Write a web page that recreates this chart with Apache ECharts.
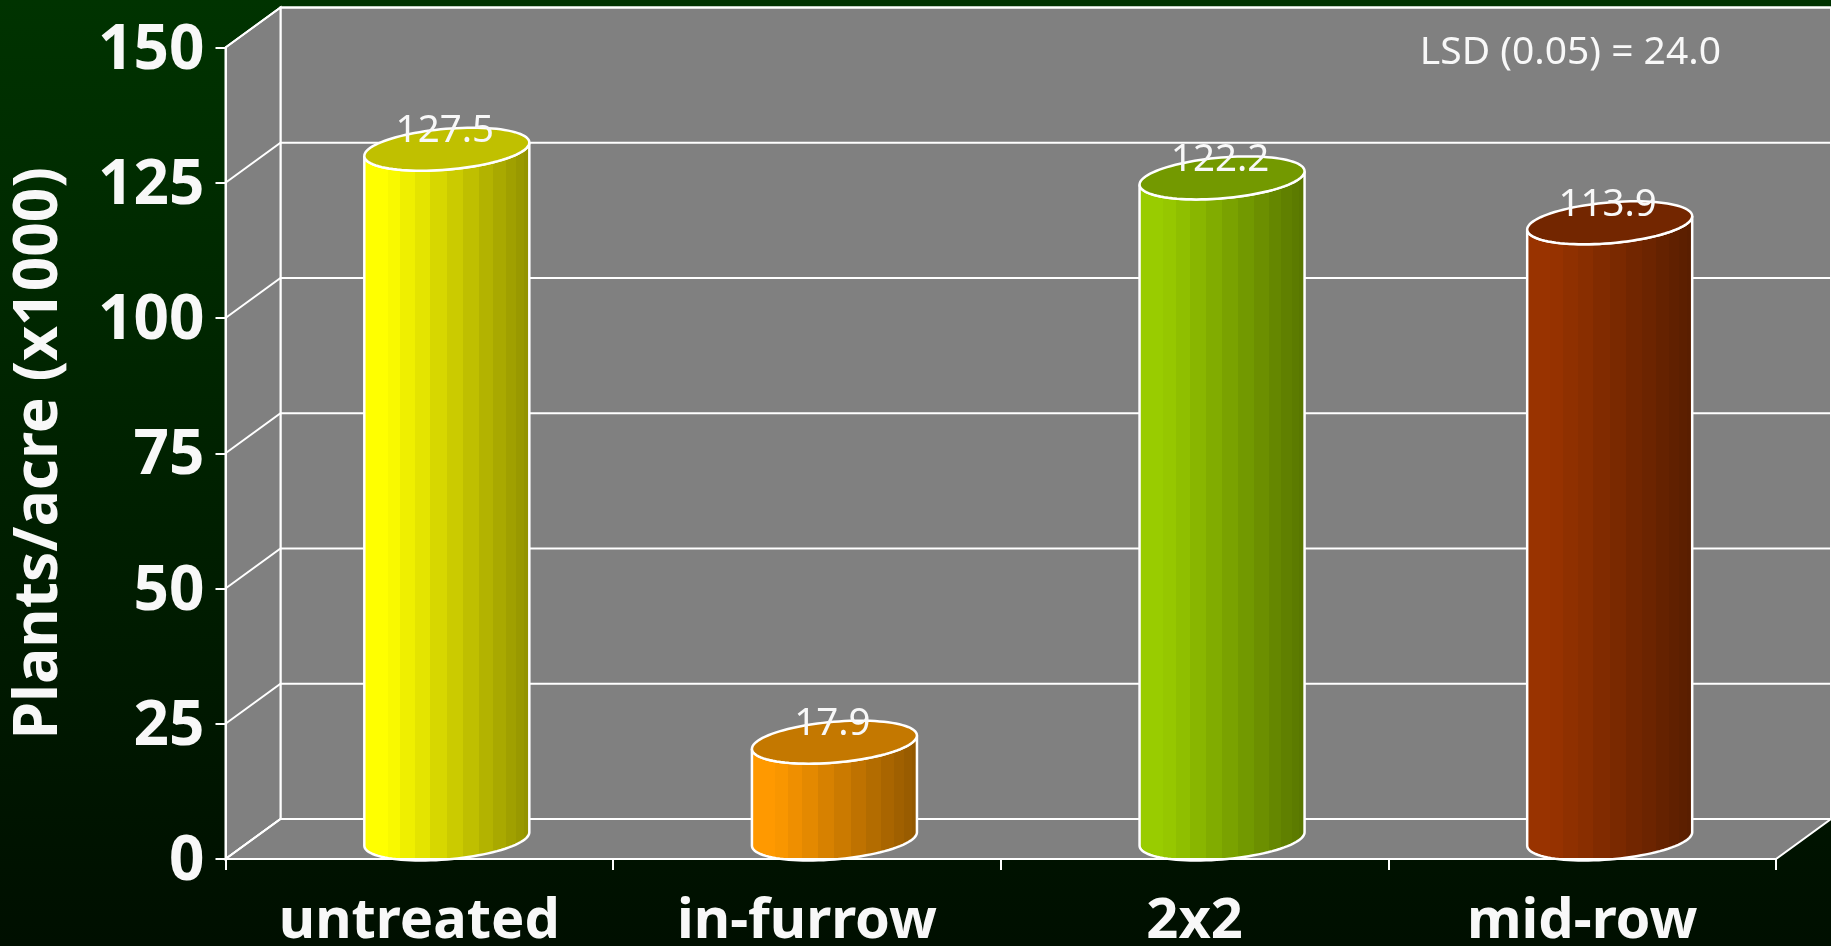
<!DOCTYPE html>
<html>
<head>
<meta charset="utf-8">
<title>Plants/acre</title>
<style>
  html, body { margin: 0; padding: 0; background: #001100; }
  #chart { width: 1831px; height: 946px; }
</style>
<script src="https://cdn.jsdelivr.net/npm/echarts@6/dist/echarts.min.js"></script>
</head>
<body>
<div id="chart"></div>
<script>
const categories = ['untreated', 'in-furrow', '2x2', 'mid-row'];
const plants = [127.5, 17.9, 122.2, 113.9];
const yTicks = [0, 25, 50, 75, 100, 125, 150];
const lsdNote = 'LSD (0.05) = 24.0';

const sideColors = ['#ffff00', '#ff9900', '#99cc00', '#993300'];
const topColors = ['#c0c000', '#c47800', '#739900', '#732600'];

// fake 3D depth, same offset for walls and bars
const DEPTH_X = 55;
const DEPTH_Y = 40;
const WHITE = '#ffffff';
const TEXT = '#f8f8f8';
const FONT = '"Noto Sans", sans-serif';

const chart = echarts.init(document.getElementById('chart'));

function darken(hex, k) {
  const n = parseInt(hex.slice(1), 16);
  const r = Math.round((n >> 16) * k);
  const g = Math.round(((n >> 8) & 255) * k);
  const b = Math.round((n & 255) * k);
  return 'rgb(' + r + ',' + g + ',' + b + ')';
}

// banded shading like the facets of the old 3D cylinder
function cylinderFill(hex) {
  const n = 16;
  const stops = [];
  for (let i = 0; i < n; i++) {
    const a = (1 - Math.cos(Math.PI * i / n)) / 2;
    const b = (1 - Math.cos(Math.PI * (i + 1) / n)) / 2;
    const mid = (a + b) / 2;
    const k = mid < 0.14 ? 1 : 1 - (mid - 0.14) * 0.5;
    stops.push({ offset: a, color: darken(hex, k) });
    stops.push({ offset: b, color: darken(hex, k) });
  }
  return new echarts.graphic.LinearGradient(0, 0, 1, 0, stops);
}

// point on the slanted ellipse of a cylinder end
function ellipsePoint(cx, cy, t) {
  return [
    cx + 78.4 * Math.cos(t) + 25.7 * Math.sin(t),
    cy - 21.5 * Math.sin(t)
  ];
}

function renderWalls(params, api) {
  const r = params.coordSys;
  const left = r.x;
  const right = r.x + r.width;
  const top = r.y;
  const bottom = r.y + r.height;
  const grey = { fill: '#808080', stroke: WHITE, lineWidth: 2 };
  return {
    type: 'group',
    children: [
      { type: 'polygon', shape: { points: [[left + DEPTH_X, top - DEPTH_Y], [right + DEPTH_X, top - DEPTH_Y], [right + DEPTH_X, bottom - DEPTH_Y], [left + DEPTH_X, bottom - DEPTH_Y]] }, style: grey },
      { type: 'polygon', shape: { points: [[left, top], [left + DEPTH_X, top - DEPTH_Y], [left + DEPTH_X, bottom - DEPTH_Y], [left, bottom]] }, style: grey },
      { type: 'polygon', shape: { points: [[left, bottom], [left + DEPTH_X, bottom - DEPTH_Y], [right + DEPTH_X, bottom - DEPTH_Y], [right, bottom]] }, style: grey }
    ]
  };
}

function renderGridLine(params, api) {
  const r = params.coordSys;
  const y = api.coord([0, api.value(0)])[1];
  return {
    type: 'polyline',
    shape: { points: [[r.x, y], [r.x + DEPTH_X, y - DEPTH_Y], [r.x + r.width + DEPTH_X, y - DEPTH_Y]] },
    style: { fill: 'none', stroke: WHITE, lineWidth: 2 }
  };
}

function renderCylinder(params, api) {
  const i = api.value(0);
  const top = api.coord([i, api.value(1)]);
  const base = api.coord([i, 0]);
  const cx = top[0] + DEPTH_X / 2;
  const topY = top[1] - 20;
  const baseY = base[1] - 20;
  const tStart = Math.PI + Math.atan2(25.7, 78.4);
  const tEnd = 2 * Math.PI + Math.atan2(25.7, 78.4);
  const steps = 48;
  const outline = [];
  for (let s = 0; s <= steps; s++) {
    outline.push(ellipsePoint(cx, topY, tStart + (tEnd - tStart) * s / steps));
  }
  for (let s = steps; s >= 0; s--) {
    outline.push(ellipsePoint(cx, baseY, tStart + (tEnd - tStart) * s / steps));
  }
  const cap = [];
  for (let s = 0; s < 96; s++) {
    cap.push(ellipsePoint(cx, topY, 2 * Math.PI * s / 96));
  }
  return {
    type: 'group',
    children: [
      {
        type: 'polygon',
        shape: { points: outline },
        style: { fill: cylinderFill(sideColors[params.dataIndex]), stroke: WHITE, lineWidth: 2.5 }
      },
      {
        type: 'polygon',
        shape: { points: cap },
        style: { fill: topColors[params.dataIndex], stroke: WHITE, lineWidth: 2.5 }
      },
      {
        type: 'text',
        x: cx - 2,
        y: topY - 18,
        style: {
          text: api.value(1).toFixed(1),
          fill: TEXT,
          font: '38.5px ' + FONT,
          align: 'center',
          verticalAlign: 'middle'
        }
      }
    ]
  };
}

const option = {
  animation: false,
  backgroundColor: new echarts.graphic.LinearGradient(0, 0, 0, 1, [
    { offset: 0, color: '#003300' },
    { offset: 1, color: '#000f00' }
  ]),
  grid: { left: 225.5, right: 55, top: 47.5, bottom: 87, containLabel: false, outerBoundsMode: 'none' },
  xAxis: {
    type: 'category',
    data: categories,
    z: 10,
    axisLine: { show: true, lineStyle: { color: WHITE, width: 2 } },
    axisTick: { show: true, length: 11, lineStyle: { color: WHITE, width: 2 } },
    axisLabel: { color: TEXT, fontFamily: FONT, fontWeight: 'bold', fontSize: 56, margin: 35, interval: 0 }
  },
  yAxis: {
    type: 'value',
    min: 0,
    max: 150,
    interval: 25,
    z: 10,
    name: 'Plants/acre (x1000)',
    nameLocation: 'middle',
    nameGap: 155,
    nameTextStyle: { color: TEXT, fontFamily: FONT, fontWeight: 'bold', fontSize: 60.5 },
    axisLine: { show: true, lineStyle: { color: WHITE, width: 2 } },
    axisTick: { show: true, length: 10, lineStyle: { color: WHITE, width: 2 } },
    // top align with a short line box pushes the digits down onto the tick
    axisLabel: { color: TEXT, fontFamily: FONT, fontWeight: 'bold', fontSize: 62, margin: 21, verticalAlign: 'top', lineHeight: 7 },
    splitLine: { show: false }
  },
  graphic: [
    {
      type: 'text',
      right: 110,
      top: 33,
      z: 20,
      style: { text: lsdNote, fill: TEXT, font: '39px ' + FONT }
    }
  ],
  series: [
    { type: 'custom', name: 'walls', data: [0], renderItem: renderWalls, silent: true, z: 1 },
    { type: 'custom', name: 'grid', data: yTicks.map((v) => [v]), encode: { y: 0 }, renderItem: renderGridLine, silent: true, z: 2 },
    {
      type: 'custom',
      name: 'plants',
      data: plants.map((v, i) => [i, v]),
      encode: { x: 0, y: 1 },
      renderItem: renderCylinder,
      clip: false,
      z: 3
    }
  ]
};

chart.setOption(option);
</script>
</body>
</html>
